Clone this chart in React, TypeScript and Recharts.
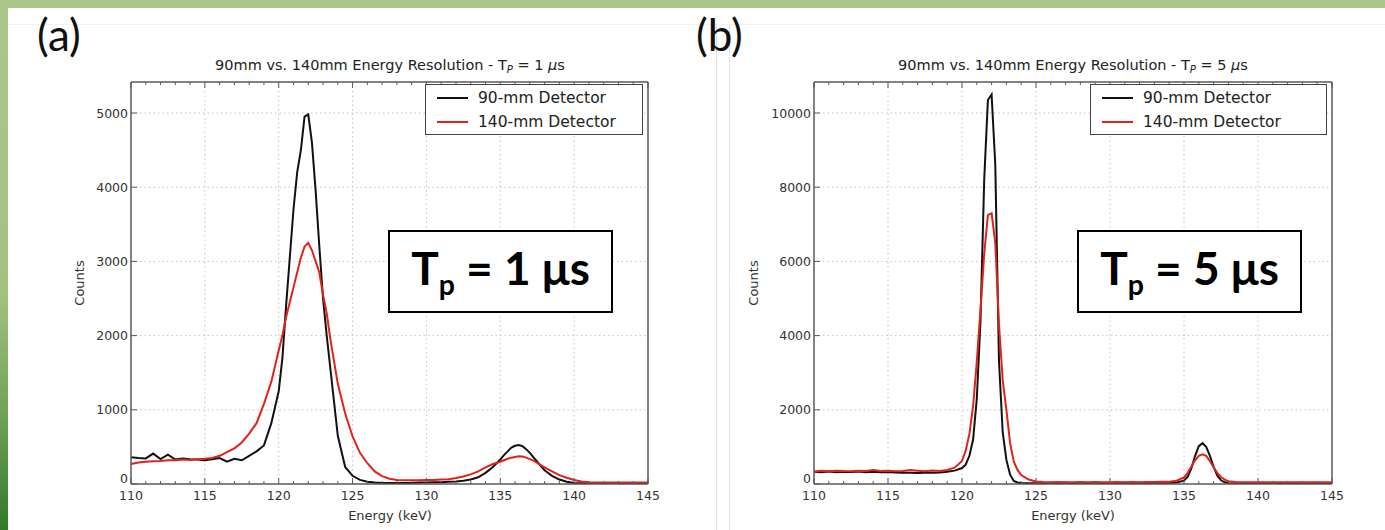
import React from 'react';
import { LineChart, Line, XAxis, YAxis, ReferenceLine } from 'recharts';

// energy grid (keV), finer steps around the two peaks
const energy = [
  110, 110.5, 111, 111.5, 112, 112.5, 113, 113.5, 114, 114.5,
  115, 115.5, 116, 116.5, 117, 117.5, 118, 118.5, 119, 119.5,
  120, 120.25, 120.5, 120.75, 121, 121.25, 121.5, 121.75, 122, 122.25,
  122.5, 122.75, 123, 123.25, 123.5, 123.75, 124, 124.5, 125, 125.5,
  126, 126.5, 127, 127.5, 128, 128.5, 129, 129.5, 130, 130.5,
  131, 131.5, 132, 132.5, 133, 133.5, 134, 134.5, 135, 135.25,
  135.5, 135.75, 136, 136.25, 136.5, 136.75, 137, 137.25, 137.5, 137.75,
  138, 138.5, 139, 139.5, 140, 140.5, 141, 141.5, 142, 142.5,
  143, 143.5, 144, 144.5, 145,
];

// (a) Tp = 1 us
const det90A = [
  360, 350, 345, 410, 335, 395, 330, 345, 335, 330,
  320, 335, 350, 300, 340, 320, 380, 440, 520, 820,
  1250, 1700, 2400, 3050, 3700, 4200, 4500, 4950, 4980, 4600,
  3950, 3200, 2500, 2000, 1550, 1100, 650, 230, 110, 55,
  30, 20, 15, 15, 15, 15, 15, 20, 20, 25,
  25, 30, 35, 45, 60, 90, 150, 230, 330, 390,
  440, 490, 515, 525, 510, 470, 420, 360, 300, 240,
  185, 110, 60, 30, 15, 10, 10, 10, 10, 10,
  10, 10, 10, 10, 10,
];
const det140A = [
  270, 290, 300, 305, 310, 320, 320, 330, 325, 335,
  340, 350, 380, 430, 480, 560, 680, 820, 1080, 1380,
  1800, 2000, 2250, 2450, 2650, 2850, 3050, 3200, 3250, 3150,
  3000, 2850, 2550, 2300, 1950, 1650, 1350, 950, 640, 420,
  280, 170, 105, 70, 55, 50, 50, 50, 55, 55,
  60, 65, 80, 100, 130, 170, 225, 270, 300, 320,
  340, 355, 365, 375, 370, 355, 335, 315, 285, 255,
  225, 170, 120, 85, 55, 35, 25, 20, 20, 20,
  20, 20, 20, 20, 20,
];

// (b) Tp = 5 us
const det90B = [
  330, 320, 335, 320, 330, 325, 335, 320, 330, 320,
  325, 310, 305, 300, 295, 300, 305, 310, 330, 360,
  430, 520, 760, 1200, 2300, 4400, 8200, 10350, 10500, 8600,
  3300, 1400, 650, 250, 80, 40, 25, 20, 20, 20,
  20, 20, 20, 20, 20, 20, 20, 20, 20, 20,
  20, 20, 20, 20, 20, 22, 25, 40, 90, 200,
  420, 760, 1020, 1100, 1000, 760, 460, 230, 100, 45,
  20, 15, 15, 15, 15, 15, 15, 15, 15, 15,
  15, 15, 15, 15, 15,
];
const det140B = [
  340, 355, 345, 360, 350, 345, 360, 350, 375, 350,
  355, 345, 350, 375, 360, 345, 365, 350, 380, 440,
  620, 900, 1350, 2100, 3300, 4700, 6200, 7250, 7300, 6500,
  4300, 2800, 2000, 1100, 600, 380, 240, 120, 70, 55,
  50, 55, 50, 48, 52, 50, 55, 50, 48, 52,
  50, 55, 50, 52, 55, 58, 60, 90, 180, 300,
  470, 640, 760, 800, 760, 620, 450, 300, 190, 120,
  75, 55, 50, 48, 50, 45, 48, 45, 45, 48,
  45, 45, 48, 45, 45,
];

const xTicks = [
  110, 111, 112, 113, 114, 115, 116, 117, 118, 119, 120, 121,
  122, 123, 124, 125, 126, 127, 128, 129, 130, 131, 132, 133,
  134, 135, 136, 137, 138, 139, 140, 141, 142, 143, 144, 145,
];
const xGrid = [115, 120, 125, 130, 135, 140];
const yTicksA = [0, 1000, 2000, 3000, 4000, 5000];
const yTicksB = [0, 2000, 4000, 6000, 8000, 10000];

const series = [
  { key: 'd90', name: '90-mm Detector', color: '#111111' },
  { key: 'd140', name: '140-mm Detector', color: '#e3211c' },
];

const FONT = '"DejaVu Sans", sans-serif';
const AXIS = '#5a5a5a';
const GRID = '#c4c4c4';

const BottomTick = (props: any) => {
  const { x, y, payload } = props;
  const major = payload.value % 5 === 0;
  return (
    <g>
      <line x1={x} y1={y} x2={x} y2={y - (major ? 6 : 3)} stroke={AXIS} />
      {major && (
        <text x={x} y={y + 16} textAnchor="middle" fontSize={12.5} fill="#333" fontFamily={FONT}>
          {payload.value}
        </text>
      )}
    </g>
  );
};

const TopTick = (props: any) => {
  const { x, y, payload } = props;
  const major = payload.value % 5 === 0;
  return <line x1={x} y1={y} x2={x} y2={y + (major ? 6 : 3)} stroke={AXIS} />;
};

const LeftTick = (props: any) => {
  const { x, y, payload } = props;
  // the zero label sits a little above the axis, as in the original
  const dy = payload.value === 0 ? -1 : 4.5;
  return (
    <g>
      <line x1={x} y1={y} x2={x + 6} y2={y} stroke={AXIS} />
      <text x={x - 3} y={y + dy} textAnchor="end" fontSize={12.5} fill="#333" fontFamily={FONT}>
        {payload.value}
      </text>
    </g>
  );
};

const RightTick = (props: any) => {
  const { x, y } = props;
  return <line x1={x} y1={y} x2={x - 6} y2={y} stroke={AXIS} />;
};

interface PanelProps {
  det90: number[];
  det140: number[];
  yMax: number;
  yTicks: number[];
  left: number;
  width: number;
  marginLeft: number;
  marginRight: number;
}

const Panel: React.FC<PanelProps> = ({ det90, det140, yMax, yTicks, left, width, marginLeft, marginRight }) => {
  const data = energy.map((e, i) => ({ e, d90: det90[i], d140: det140[i] }));
  return (
    <div style={{ position: 'absolute', left, top: 0 }}>
      <LineChart
        width={width}
        height={530}
        data={data}
        margin={{ top: 81, right: marginRight, left: marginLeft, bottom: 16 }}
      >
        <XAxis
          dataKey="e"
          type="number"
          domain={[110, 145]}
          ticks={xTicks}
          interval={0}
          height={30}
          tickSize={0}
          tickMargin={0}
          tickLine={false}
          tick={<BottomTick />}
          axisLine={{ stroke: AXIS, strokeWidth: 1.5 }}
        />
        <XAxis
          xAxisId="top"
          orientation="top"
          dataKey="e"
          type="number"
          domain={[110, 145]}
          ticks={xTicks}
          interval={0}
          height={1}
          tickSize={0}
          tickMargin={0}
          tickLine={false}
          tick={<TopTick />}
          axisLine={{ stroke: AXIS, strokeWidth: 1.5 }}
        />
        <YAxis
          type="number"
          domain={[0, yMax]}
          ticks={yTicks}
          interval={0}
          width={60}
          tickSize={0}
          tickMargin={0}
          tickLine={false}
          allowDataOverflow
          tick={<LeftTick />}
          axisLine={{ stroke: AXIS, strokeWidth: 1.5 }}
        />
        <YAxis
          yAxisId="right"
          orientation="right"
          type="number"
          domain={[0, yMax]}
          ticks={yTicks}
          interval={0}
          width={1}
          tickSize={0}
          tickMargin={0}
          tickLine={false}
          tick={<RightTick />}
          axisLine={{ stroke: AXIS, strokeWidth: 1.5 }}
        />
        {xGrid.map((v) => (
          <ReferenceLine key={`gx-${v}`} x={v} stroke={GRID} strokeDasharray="1.5 3" />
        ))}
        {yTicks.slice(1).map((v) => (
          <ReferenceLine key={`gy-${v}`} y={v} stroke={GRID} strokeDasharray="1.5 3" />
        ))}
        {series.map((s) => (
          <Line
            key={s.key}
            dataKey={s.key}
            name={s.name}
            type="linear"
            stroke={s.color}
            strokeWidth={2}
            dot={false}
            isAnimationActive={false}
          />
        ))}
      </LineChart>
    </div>
  );
};

const Title: React.FC<{ cx: number; tp: string }> = ({ cx, tp }) => (
  <div
    style={{
      position: 'absolute', left: cx - 250, top: 57, width: 500, textAlign: 'center',
      fontFamily: FONT, fontSize: 14.5, color: '#222', whiteSpace: 'nowrap',
    }}
  >
    90mm vs. 140mm Energy Resolution - T
    <sub style={{ fontStyle: 'italic', fontSize: '0.7em', verticalAlign: '-0.25em' }}>P</sub>
    {' = ' + tp + ' '}
    <span style={{ fontStyle: 'italic' }}>μ</span>s
  </div>
);

const LegendBox: React.FC<{ left: number; width: number }> = ({ left, width }) => (
  <div
    style={{
      position: 'absolute', left, top: 84, width, height: 51, boxSizing: 'border-box',
      border: '1.5px solid #444', background: '#fff', fontFamily: FONT, fontSize: 15.5, color: '#222',
    }}
  >
    {series.map((s, i) => (
      <div key={s.key} style={{ position: 'absolute', left: 11, top: 4 + i * 24, display: 'flex', alignItems: 'center' }}>
        <span style={{ display: 'inline-block', width: 31, height: 2, background: s.color, marginRight: 10 }} />
        <span>{s.name}</span>
      </div>
    ))}
  </div>
);

const Inset: React.FC<{ left: number; tp: string }> = ({ left, tp }) => (
  <div
    style={{
      position: 'absolute', left, top: 230, width: 225, height: 83, boxSizing: 'border-box',
      border: '2px solid #000', background: '#fff', display: 'flex', alignItems: 'center',
      justifyContent: 'center', fontFamily: 'Lato, sans-serif', fontWeight: 700, fontSize: 46, color: '#000',
      whiteSpace: 'nowrap',
    }}
  >
    <span style={{ lineHeight: 1, marginTop: -8 }}>
      T<sub style={{ fontSize: '0.62em', verticalAlign: '-0.35em', lineHeight: 0 }}>p</sub> = {tp} μs
    </span>
  </div>
);

const textStyle: React.CSSProperties = {
  position: 'absolute', fontFamily: FONT, fontSize: 13, color: '#333', whiteSpace: 'nowrap',
};

export default function App() {
  return (
    <div style={{ position: 'absolute', left: 0, top: 0, width: 1385, height: 530, background: '#fff', overflow: 'hidden' }}>
      {/* slide frame */}
      <div style={{ position: 'absolute', left: 0, top: 0, width: 1385, height: 8, background: '#abc78b' }} />
      <div
        style={{
          position: 'absolute', left: 0, top: 0, width: 8, height: 530,
          background: 'linear-gradient(#abc78b 0%, #a3c282 55%, #6fa258 78%, #34782a 100%)',
        }}
      />
      <div style={{ position: 'absolute', left: 8, top: 24, width: 1377, height: 1, background: '#f2f2f2' }} />
      <div style={{ position: 'absolute', left: 716, top: 24, width: 1, height: 506, background: '#e2e2e2' }} />
      <div style={{ position: 'absolute', left: 729, top: 24, width: 1, height: 506, background: '#e2e2e2' }} />

      <Panel det90={det90A} det140={det140A} yMax={5418} yTicks={yTicksA} left={0} width={700} marginLeft={71} marginRight={51} />
      <Panel det90={det90B} det140={det140B} yMax={10836} yTicks={yTicksB} left={700} width={685} marginLeft={54} marginRight={52} />

      <div style={{ position: 'absolute', left: 37, top: 8, fontFamily: 'Lato, sans-serif', fontSize: 44, color: '#111' }}>(a)</div>
      <div style={{ position: 'absolute', left: 696, top: 8, fontFamily: 'Lato, sans-serif', fontSize: 44, color: '#111' }}>(b)</div>

      <Title cx={390} tp="1" />
      <Title cx={1073} tp="5" />

      <LegendBox left={425} width={218} />
      <LegendBox left={1090} width={237} />

      <Inset left={388} tp="1" />
      <Inset left={1077} tp="5" />

      <div style={{ ...textStyle, left: 79, top: 283, transform: 'translate(-50%, -50%) rotate(-90deg)' }}>Counts</div>
      <div style={{ ...textStyle, left: 753, top: 283, transform: 'translate(-50%, -50%) rotate(-90deg)' }}>Counts</div>
      <div style={{ ...textStyle, left: 390, top: 515, transform: 'translate(-50%, -50%)' }}>Energy (keV)</div>
      <div style={{ ...textStyle, left: 1073, top: 515, transform: 'translate(-50%, -50%)' }}>Energy (keV)</div>
    </div>
  );
}
